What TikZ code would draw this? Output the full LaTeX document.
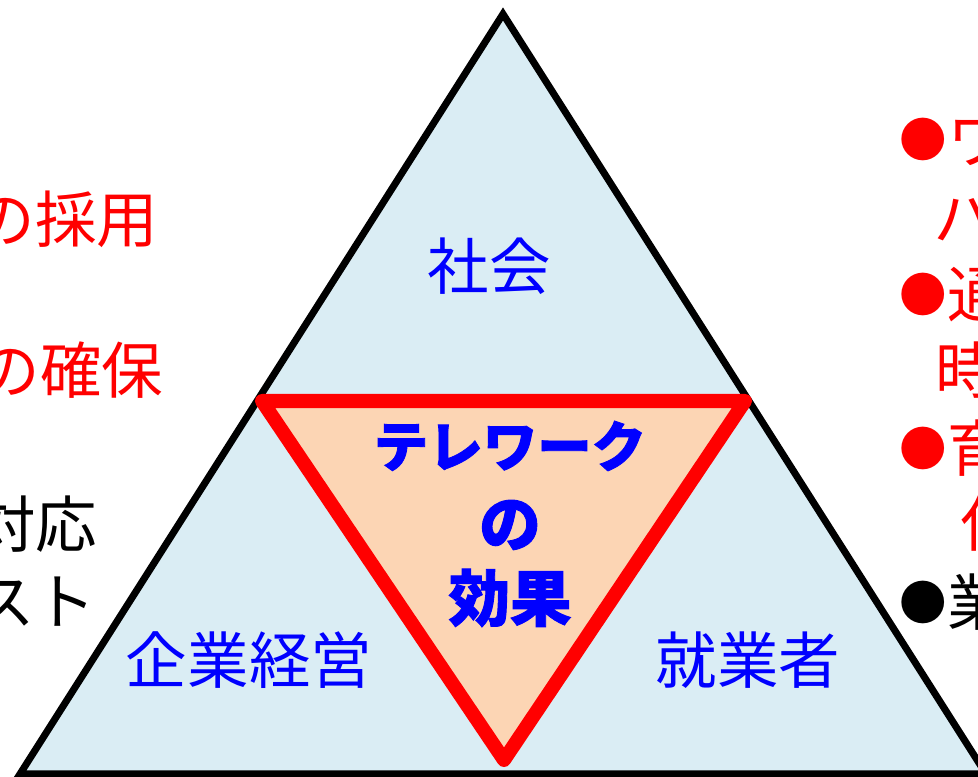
\documentclass[tikz,border=0pt]{standalone}
\usepackage{fontspec}
\setmainfont{Noto Sans CJK JP}[BoldFeatures = {FakeBold = 1.5}]
\usetikzlibrary{positioning}
\definecolor{mblue}{RGB}{218, 237, 244}
\definecolor{mpeach}{RGB}{252, 213, 180}
\newcommand{\dotmark}{\raisebox{1.5pt}{\fontsize{13.5}{16}\selectfont ●}}
\tikzset{part/.style = {text = blue, inner sep = 0, font = \fontsize{17.5}{21}\selectfont},
  effect/.style = {text = blue, inner sep = 0, font = \bfseries\fontsize{17.5}{21}\selectfont},
  side/.style = {inner sep = 0, font = \fontsize{17.5}{21}\selectfont}}

\begin{document}
\begin{tikzpicture}
    \useasboundingbox (0, 0) rectangle (9.78, 7.77);
    \clip (0, 0) rectangle (9.78, 7.77);

    \coordinate (apex) at (5.03, 7.63);
    \coordinate (bl) at (0.20, 0.03);
    \coordinate (br) at (9.86, 0.03);
    \coordinate (tl) at (2.62, 3.76);
    \coordinate (tr) at (7.45, 3.76);
    \coordinate (tip) at (5.04, 0.17);

    \draw [line width = 2pt, fill = mblue] (apex) -- (bl) -- (br) -- cycle;
    \draw [line width = 4pt, red, fill = mpeach, line join = round] (tl) -- (tr) -- (tip) -- cycle;

    \node [part] (society) at (4.89, 5.11) {社会};
    \node [part] (company) at (2.49, 1.17) {企業経営};
    \node [part] (worker) at (7.48, 1.17) {就業者};

    \node [effect, font = \bfseries\fontsize{15.5}{18}\selectfont] (tele) at (5.10, 3.31) {テレワーク};
    \node [effect] (of) at (5.10, 2.52) {の};
    \node [effect] (result) at (5.10, 1.79) {効果};

    \node [side, red, anchor = east] (hire) at (1.59, 5.58) {の採用};
    \node [side, red, anchor = east] (secure) at (1.64, 4.07) {の確保};
    \node [side, red, anchor = east] (third) at (0.06, 3.29) {の};
    \node [side, anchor = east] (response) at (0.98, 2.53) {対応};
    \node [side, anchor = east] (cost) at (0.97, 1.75) {スト};

    \node [side, red, anchor = west] (balance) at (8.99, 6.35) {\dotmark ワ};
    \node [side, red, anchor = west] (balance2) at (9.33, 5.57) {ハ};
    \node [side, red, anchor = west] (commute) at (8.99, 4.82) {\dotmark 通};
    \node [side, red, anchor = west] (commute2) at (9.35, 4.07) {時};
    \node [side, red, anchor = west] (care) at (8.99, 3.29) {\dotmark 育};
    \node [side, red, anchor = west] (care2) at (9.60, 2.54) {仕};
    \node [side, anchor = west] (task) at (8.99, 1.75) {\dotmark 業};
\end{tikzpicture}
\end{document}
